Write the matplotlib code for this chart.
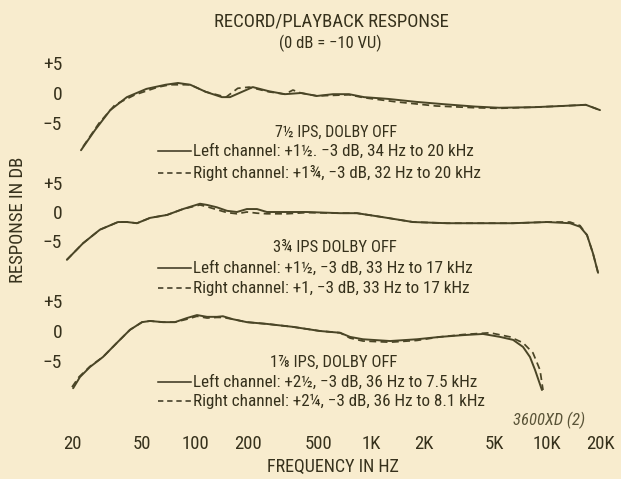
import matplotlib
matplotlib.use("Agg")
import matplotlib.pyplot as plt
from matplotlib.lines import Line2D

# ---------------- data ----------------
freq_ticks = [20, 50, 100, 200, 500, 1000, 2000, 5000, 10000, 20000]
freq_labels = ["20", "50", "100", "200", "500", "1K", "2K", "5K", "10K", "20K"]
db_ticks = [5, 0, -5]
db_labels = ["+5", "0", "\u22125"]

# 7 1/2 ips
ips75_left_f = [22.5, 27, 33, 41, 53, 68, 80, 94, 115, 142, 158, 185, 213, 263, 324, 400,
                493, 608, 750, 912, 1250, 1800, 2600, 3900, 5340, 8550, 12200, 16600, 20000]
ips75_left_db = [-9.7, -6.3, -2.9, -0.7, 0.7, 1.4, 1.7, 1.4, 0.2, -0.7, -0.7, 0.2, 1.0, 0.3, -0.2, 0.0,
                 -0.5, -0.2, -0.2, -0.7, -1.0, -1.5, -1.9, -2.3, -2.5, -2.4, -2.2, -2.0, -2.9]
ips75_right_f = [23.1, 28.5, 35.1, 45.6, 61.6, 72.1, 94, 115, 150, 175, 203, 263, 324, 360, 400,
                 493, 750, 912, 1387, 2340, 3900, 5340, 8550, 12200, 16600, 20000]
ips75_right_db = [-9.1, -5.1, -2.0, -0.3, 1.0, 1.4, 1.4, 0.2, -0.7, 0.8, 1.0, 0.2, -0.2, 0.5, 0.0,
                  -0.5, -0.3, -0.8, -1.5, -2.2, -2.5, -2.6, -2.4, -2.2, -2.0, -2.9]

# 3 3/4 ips
ips375_left_f = [18.7, 23.1, 28.8, 36.5, 41.1, 46.8, 55.5, 69.3, 85.4, 106.7, 117, 133, 152, 173, 197,
                 225, 256, 333, 433, 667, 832, 1125, 1731, 2704, 4160, 6411, 10000, 13500, 15400,
                 16870, 18240, 19500]
ips375_left_db = [-8.1, -5.3, -3.0, -1.7, -1.7, -1.9, -1.0, -0.5, 0.5, 1.4, 1.2, 0.8, 0.2, 0.0, 0.5,
                  0.5, 0.0, 0.0, 0.0, -0.2, -0.2, -0.8, -1.7, -1.9, -1.9, -1.9, -1.7, -1.9, -2.5,
                  -3.9, -7.0, -10.3]
ips375_right_f = [18.7, 23.1, 28.8, 36.5, 41.1, 46.8, 55.5, 69.3, 85.4, 106.7, 117, 133, 152, 173, 197,
                  225, 256, 333, 433, 667, 832, 1125, 1731, 2704, 4160, 6411, 10000, 13500, 15400,
                  16870, 18240, 19500]
ips375_right_db = [-8.1, -5.3, -3.0, -1.7, -1.7, -1.9, -1.0, -0.5, 0.5, 1.2, 0.9, 0.4, -0.1, -0.3, 0.0,
                   -0.2, -0.3, -0.3, -0.1, -0.2, -0.2, -0.8, -1.7, -1.9, -1.9, -1.9, -1.7, -1.7, -2.3,
                   -3.9, -7.0, -10.3]

# 1 7/8 ips
ips1875_left_f = [20.3, 22.2, 25.3, 30.0, 36.0, 42.7, 50.0, 55.5, 65.8, 76.9, 90, 102.6, 117, 133, 144,
                  164, 197, 256, 360, 513, 667, 760, 900, 1283, 1824, 2466, 3335, 4328, 5408, 6411,
                  7306, 8000, 8550, 9357]
ips1875_left_db = [-9.7, -7.8, -6.1, -4.4, -2.0, 0.2, 1.5, 1.7, 1.5, 1.5, 2.2, 2.7, 2.4, 2.4, 2.5,
                   2.0, 1.5, 1.2, 0.7, 0.0, -0.3, -1.0, -1.4, -1.7, -1.4, -1.0, -0.7, -0.5, -1.0, -1.5,
                   -2.7, -4.4, -6.6, -10.0]
ips1875_right_f = [20.0, 21.9, 25.3, 30.0, 36.0, 42.7, 50.0, 55.5, 65.8, 76.9, 90, 102.6, 117, 133, 144,
                   164, 197, 256, 360, 513, 667, 760, 900, 1283, 1824, 2466, 3335, 4743, 6165, 7306,
                   8318, 9120, 9490]
ips1875_right_db = [-9.5, -7.8, -6.0, -4.4, -2.0, 0.2, 1.5, 1.7, 1.5, 1.5, 2.0, 2.5, 2.2, 2.3, 2.3,
                    2.0, 1.5, 1.2, 0.7, 0.0, -0.3, -1.2, -1.7, -1.9, -1.6, -1.0, -0.6, -0.3, -1.0, -2.0,
                    -3.7, -6.6, -10.0]

panel_titles = ["7\u00bd IPS, DOLBY OFF", "3\u00be IPS DOLBY OFF", "1\u215e IPS, DOLBY OFF"]
left_texts = ["Left channel: +1\u00bd. \u22123 dB, 34 Hz to 20 kHz",
              "Left channel: +1\u00bd, \u22123 dB, 33 Hz to 17 kHz",
              "Left channel: +2\u00bd, \u22123 dB, 36 Hz to 7.5 kHz"]
right_texts = ["Right channel: +1\u00be, \u22123 dB, 32 Hz to 20 kHz",
               "Right channel: +1, \u22123 dB, 33 Hz to 17 kHz",
               "Right channel: +2\u00bc, \u22123 dB, 36 Hz to 8.1 kHz"]

# ---------------- styling / layout ----------------
W, H = 621, 479
BG = "#f8ecce"
INK = "#36311c"
CURVE = "#4a4526"
FONT = ["Roboto Condensed", "Archivo Narrow", "PT Sans Narrow", "Liberation Sans Narrow", "DejaVu Sans"]
plt.rcParams["font.family"] = FONT

fig = plt.figure(figsize=(W / 100, H / 100), dpi=100, facecolor=BG)

X_LEFT, X_RIGHT = 72, 600          # pixel positions of 20 Hz and 20 kHz
PX_PER_DB = 5.9
DB_TOP, DB_BOT = 8, -12
zero_rows = [93, 212, 331]          # pixel row of 0 dB in each panel

panels = [
    (ips75_left_f, ips75_left_db, ips75_right_f, ips75_right_db),
    (ips375_left_f, ips375_left_db, ips375_right_f, ips375_right_db),
    (ips1875_left_f, ips1875_left_db, ips1875_right_f, ips1875_right_db),
]

axes = []
for i, (lf, ld, rf, rd) in enumerate(panels):
    y0 = zero_rows[i]
    top_px = y0 - DB_TOP * PX_PER_DB
    bot_px = y0 - DB_BOT * PX_PER_DB
    ax = fig.add_axes([X_LEFT / W, 1 - bot_px / H, (X_RIGHT - X_LEFT) / W, (bot_px - top_px) / H])
    ax.set_facecolor("none")
    ax.set_xscale("log")
    ax.set_xlim(20, 20000)
    ax.set_ylim(DB_BOT, DB_TOP)
    for s in ax.spines.values():
        s.set_visible(False)
    ax.plot(lf, ld, color=CURVE, lw=1.4, solid_capstyle="round", clip_on=False)
    ax.plot(rf, rd, color=CURVE, lw=1.25, ls=(0, (4, 2.5)), clip_on=False)
    ax.set_yticks(db_ticks)
    ax.set_yticklabels(db_labels)
    ax.tick_params(axis="y", length=0, pad=7, labelsize=14, labelcolor=INK)
    ax.minorticks_off()
    if i == 2:
        ax.set_xticks(freq_ticks)
        ax.set_xticklabels(freq_labels)
        ax.tick_params(axis="x", length=0, pad=24, labelsize=13.5, labelcolor=INK)
    else:
        ax.set_xticks([])
    ax.tick_params(axis="x", which="minor", length=0)
    axes.append(ax)


def ftext(x, y, s, **kw):
    kw.setdefault("color", INK)
    fig.text(x / W, 1 - y / H, s, **kw)


ftext(331, 22, "RECORD/PLAYBACK RESPONSE", ha="center", va="center", fontsize=13.5)
ftext(330, 43, "(0 dB = \u221210 VU)", ha="center", va="center", fontsize=12)

title_rows = [132, 248, 362]
title_sizes = [11.5, 12, 12]
left_rows = [151, 268, 382]
right_rows = [173, 288, 401]
for i in range(3):
    ftext(397, title_rows[i], panel_titles[i], ha="right", va="center", fontsize=title_sizes[i])
    ftext(193, left_rows[i], left_texts[i], ha="left", va="center", fontsize=12.3)
    ftext(193, right_rows[i], right_texts[i], ha="left", va="center", fontsize=12.3)
    yl = 1 - left_rows[i] / H
    yr = 1 - right_rows[i] / H
    fig.add_artist(Line2D([158 / W, 191 / W], [yl, yl], color=INK, lw=1.1))
    fig.add_artist(Line2D([158 / W, 191 / W], [yr, yr], color=INK, lw=1.1, ls=(0, (3.5, 2.5))))

ftext(549, 420, "3600XD (2)", ha="center", va="center", fontsize=12, style="italic",
      color="#5a5438")
ftext(333, 467, "FREQUENCY IN HZ", ha="center", va="center", fontsize=13)
ftext(18, 220, "RESPONSE IN DB", ha="center", va="center", rotation=90, fontsize=13.5)

fig.savefig("out.png", dpi=100, facecolor=BG)
